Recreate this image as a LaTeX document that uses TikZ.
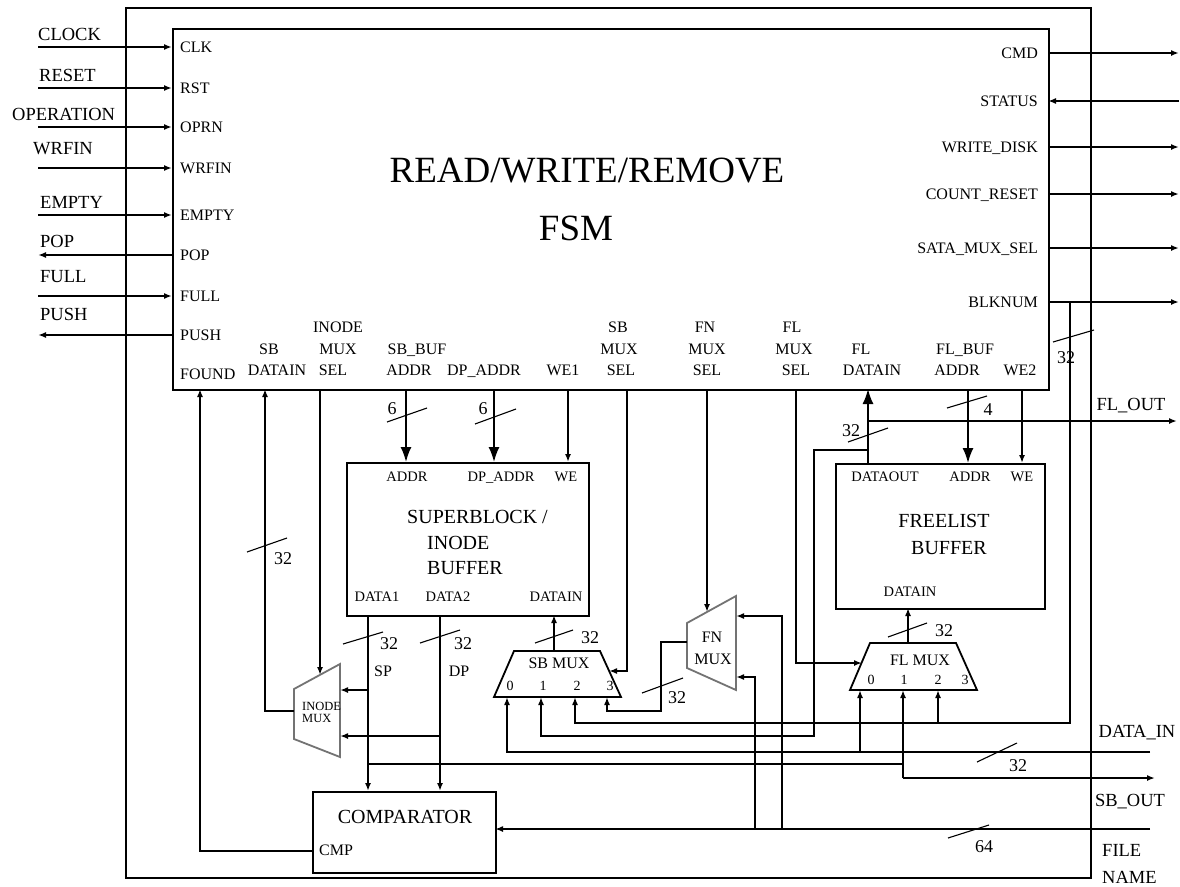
\documentclass[tikz,border=0pt]{standalone}
\usepackage{fontspec}
\setmainfont{Liberation Serif}
\usetikzlibrary{arrows.meta}
\begin{document}
\begin{tikzpicture}[x=1pt,y=-1pt,
  wire/.style={line width=1.7pt},
  blk/.style={draw,line width=1.9pt,inner sep=0pt,anchor=north west},
  muxg/.style={draw=black!55,line width=1.8pt},
  muxb/.style={draw,line width=1.8pt},
  sa/.style={-{Latex[length=8pt,width=6pt]}},
  ba/.style={-{Latex[length=15pt,width=11pt]}},
  bus/.style={line width=1.1pt},
  olbl/.style={inner sep=0pt,text height=12.2pt,text depth=0pt,font=\fontsize{18.5}{20}\selectfont},
  ilbl/.style={inner sep=0pt,text height=10.6pt,text depth=0pt,font=\fontsize{16}{18}\selectfont},
  blbl/.style={inner sep=0pt,text height=9.6pt,text depth=0pt,font=\fontsize{14.5}{16}\selectfont},
  tlbl/.style={inner sep=0pt,text height=13.2pt,text depth=0pt,font=\fontsize{20}{22}\selectfont},
  nlbl/.style={inner sep=0pt,text height=12pt,text depth=0pt,font=\fontsize{18}{20}\selectfont},
  dlbl/.style={inner sep=0pt,text height=9.2pt,text depth=0pt,font=\fontsize{14}{16}\selectfont},
  slbl/.style={inner sep=0pt,text height=8.3pt,text depth=0pt,font=\fontsize{12.5}{14}\selectfont},
  ttl/.style={inner sep=0pt,text height=24.5pt,text depth=0pt,font=\fontsize{37}{40}\selectfont},
]
\useasboundingbox (0,0) rectangle (1180,886);
\fill[white] (0,0) rectangle (1180,886);

% ---------- boxes ----------
\node[blk,minimum width=965pt,minimum height=870pt] (frame) at (125,7) {};
\node[blk,minimum width=876pt,minimum height=361pt] (fsm) at (172,28) {};
\node[blk,minimum width=242pt,minimum height=153pt] (sbb) at (346,462) {};
\node[blk,minimum width=209pt,minimum height=145pt] (flb) at (835,463) {};
\node[blk,minimum width=183pt,minimum height=81pt] (cmp) at (312,791) {};

\node[ttl] (ttl1) at (587,170) {READ/WRITE/REMOVE};
\node[ttl] (ttl2) at (576,228) {FSM};

% ---------- muxes ----------
\draw[muxb] (514,651) coordinate (sbm-tl) -- (600,651) coordinate (sbm-tr) -- (621,697) coordinate (sbm-br) -- (494,697) coordinate (sbm-bl) -- cycle;
\draw[muxb] (870,643) coordinate (flm-tl) -- (956,643) coordinate (flm-tr) -- (977,690) coordinate (flm-br) -- (850,690) coordinate (flm-bl) -- cycle;
\draw[muxg] (294,689) coordinate (inm-tl) -- (340,664) coordinate (inm-tr) -- (340,757) coordinate (inm-br) -- (294,739) coordinate (inm-bl) -- cycle;
\draw[muxg] (687,623) coordinate (fnm-tl) -- (736,596) coordinate (fnm-tr) -- (736,690) coordinate (fnm-br) -- (687,668) coordinate (fnm-bl) -- cycle;

\node[ilbl] (sbmt) at (559,663) {SB MUX};
\node[ilbl] (flmt) at (920,660) {FL MUX};
\node[dlbl] (sbd0) at (510,686) {0};
\node[dlbl] (sbd1) at (543,686) {1};
\node[dlbl] (sbd2) at (577,686) {2};
\node[dlbl] (sbd3) at (610,686) {3};
\node[dlbl] (fld0) at (871,680) {0};
\node[dlbl] (fld1) at (904,680) {1};
\node[dlbl] (fld2) at (938,680) {2};
\node[dlbl] (fld3) at (965,680) {3};
\node[slbl,anchor=west] (inmt1) at (302,706) {INODE};
\node[slbl,anchor=west] (inmt2) at (302,718) {MUX};
\node[ilbl] (fnmt1) at (712,637) {FN};
\node[ilbl] (fnmt2) at (713,659) {MUX};

% ---------- left signals ----------
\foreach \n/\y/\ext/\int/\lx/\ly/\d in {
  clk/47/CLOCK/CLK/38/40/i,
  rst/88/RESET/RST/39/81/i,
  opr/127/OPERATION/OPRN/12/120/i,
  wrf/168/WRFIN/WRFIN/33/154/i,
  emp/215/EMPTY/EMPTY/40/208/i,
  pop/255/POP/POP/40/247/o,
  ful/296/FULL/FULL/40/282/i,
  psh/335/PUSH/PUSH/40/320/o}{
  \coordinate (\n-ext) at (38,\y);
  \coordinate (\n-int) at (172,\y);
  \node[olbl,anchor=base west] (\n-el) at (\lx,\ly) {\ext};
  \node[ilbl,anchor=west] (\n-il) at (180,\y) {\int};
  \if\d i\relax
    \draw[wire,sa] (\n-ext) -- (\n-int);
  \else
    \draw[wire,sa] (\n-int) -- (\n-ext);
  \fi
}
\node[ilbl,anchor=west] (fnd-il) at (180,374) {FOUND};

% ---------- right signals ----------
\foreach \n/\y/\int/\d in {
  cmd/53/CMD/o,
  sts/101/STATUS/i,
  wrd/147/WRITE\_DISK/o,
  crs/194/COUNT\_RESET/o,
  sat/248/SATA\_MUX\_SEL/o,
  bln/302/BLKNUM/o}{
  \coordinate (\n-int) at (1048,\y);
  \coordinate (\n-ext) at (1179,\y);
  \node[ilbl,anchor=east] (\n-il) at (1038,\y) {\int};
  \if\d i\relax
    \draw[wire,sa] (\n-ext) -- (\n-int);
  \else
    \draw[wire,sa] (\n-int) -- (\n-ext);
  \fi
}

% ---------- FSM bottom labels ----------
\foreach \n/\x/\y/\t in {
  q1/269/349/SB, q2/277/370/DATAIN,
  q3/338/327/INODE, q4/338/349/MUX, q5/333/370/SEL,
  q6/417/349/SB\_BUF, q7/409/370/ADDR,
  q8/484/370/DP\_ADDR, q9/563/370/WE1,
  q10/618/327/SB, q11/619/349/MUX, q12/621/370/SEL,
  q13/705/327/FN, q14/707/349/MUX, q15/707/370/SEL,
  q16/792/327/FL, q17/794/349/MUX, q18/796/370/SEL,
  q19/861/349/FL, q20/872/370/DATAIN,
  q21/965/349/FL\_BUF, q22/957/370/ADDR,
  q23/1020/370/WE2}{
  \node[ilbl] (\n) at (\x,\y) {\t};
}

% ---------- box labels ----------
\node[blbl] (sb-a) at (407,477) {ADDR};
\node[blbl] (sb-d) at (501,477) {DP\_ADDR};
\node[blbl] (sb-w) at (566,477) {WE};
\node[tlbl,anchor=west] (sb-t1) at (407,517) {SUPERBLOCK /};
\node[tlbl,anchor=west] (sb-t2) at (427,543) {INODE};
\node[tlbl,anchor=west] (sb-t3) at (427,568) {BUFFER};
\node[blbl] (sb-d1) at (377,597) {DATA1};
\node[blbl] (sb-d2) at (448,597) {DATA2};
\node[blbl] (sb-di) at (556,597) {DATAIN};

\node[blbl] (fl-o) at (885,477) {DATAOUT};
\node[blbl] (fl-a) at (970,477) {ADDR};
\node[blbl] (fl-w) at (1022,477) {WE};
\node[tlbl] (fl-t1) at (944,521) {FREELIST};
\node[tlbl] (fl-t2) at (949,548) {BUFFER};
\node[blbl] (fl-di) at (910,592) {DATAIN};

\node[tlbl] (cmp-t) at (405,817) {COMPARATOR};
\node[ilbl,anchor=west] (cmp-p) at (319,850) {CMP};

% ---------- outer labels ----------
\node[olbl] (flout) at (1131,404) {FL\_OUT};
\node[olbl] (datain) at (1137,731) {DATA\_IN};
\node[olbl] (sbout) at (1130,800) {SB\_OUT};
\node[olbl,anchor=west] (fname1) at (1102,850) {FILE};
\node[olbl,anchor=west] (fname2) at (1102,877) {NAME};

% ---------- wires ----------
% BLKNUM branch
\coordinate (blkj) at (1070,302);
\draw[wire,sa] (blkj) -- (1070,723) -- (575,723) -- (575,697);
\draw[wire,sa] (938,723) -- (938,690);
% FL_OUT
\draw[wire,sa] (868,421) -- (1177,421);
% FOUND
\draw[wire,sa] (312,851) -- (200,851) -- (200,389);
% SB DATAIN
\draw[wire,sa] (294,711) -- (265,711) -- (265,389);
% INODE MUX SEL
\draw[wire,sa] (320,389) -- (320,675);
% SB_BUF ADDR, DP_ADDR, WE1
\draw[wire,ba] (406,389) -- (406,462);
\draw[wire,ba] (494,389) -- (494,462);
\draw[wire,sa] (568,389) -- (568,462);
% SB MUX SEL
\draw[wire,sa] (627,389) -- (627,671) -- (609,671);
% FN MUX SEL
\draw[wire,sa] (707,389) -- (707,612);
% FL MUX SEL
\draw[wire,sa] (796,389) -- (796,663) -- (862,663);
% FL DATAOUT -> FSM
\draw[wire,ba] (868,463) -- (868,389);
\draw[wire,sa] (868,450) -- (814,450) -- (814,736) -- (541,736) -- (541,697);
% FL_BUF ADDR, WE2
\draw[wire,ba] (968,389) -- (968,463);
\draw[wire,sa] (1022,389) -- (1022,463);
% DATA1
\draw[wire,sa] (368,615) -- (368,791);
\draw[wire,sa] (368,690) -- (340,690);
\draw[wire] (368,764) -- (903,764);
\draw[wire,sa] (903,778) -- (903,690);
\draw[wire,sa] (903,778) -- (1155,778);
% DATA2
\draw[wire,sa] (440,615) -- (440,791);
\draw[wire,sa] (440,736) -- (340,736);
% SB MUX out
\draw[wire,sa] (554,651) -- (554,615);
% FN MUX out -> SB MUX 3
\draw[wire,sa] (687,642) -- (661,642) -- (661,711) -- (607,711) -- (607,697);
% DATA_IN
\draw[wire,sa] (1150,752) -- (507,752) -- (507,697);
\draw[wire,sa] (860,752) -- (860,690);
% FL MUX out
\draw[wire,sa] (908,643) -- (908,608);
% FILE NAME
\draw[wire,sa] (1150,829) -- (495,829);
\draw[wire,sa] (782,829) -- (782,616) -- (736,616);
\draw[wire,sa] (755,829) -- (755,677) -- (736,677);

% ---------- bus marks ----------
\draw[bus] (247,552) -- (287,538);  \node[nlbl] (n1) at (283,558) {32};
\draw[bus] (387,422) -- (427,408);  \node[nlbl] (n2) at (392,408) {6};
\draw[bus] (475,424) -- (516,409);  \node[nlbl] (n3) at (483,408) {6};
\draw[bus] (848,442) -- (888,428);  \node[nlbl] (n4) at (851,430) {32};
\draw[bus] (947,408) -- (987,396);  \node[nlbl] (n5) at (988,409) {4};
\draw[bus] (1053,342) -- (1094,330); \node[nlbl] (n6) at (1066,357) {32};
\draw[bus] (343,644) -- (383,632);  \node[nlbl] (n7) at (389,643) {32};
\draw[bus] (420,643) -- (460,630);  \node[nlbl] (n8) at (463,643) {32};
\draw[bus] (535,643) -- (573,630);  \node[nlbl] (n9) at (590,637) {32};
\draw[bus] (642,693) -- (683,678);  \node[nlbl] (n10) at (677,697) {32};
\draw[bus] (888,637) -- (927,623);  \node[nlbl] (n11) at (944,630) {32};
\draw[bus] (977,762) -- (1017,743); \node[nlbl] (n12) at (1018,765) {32};
\draw[bus] (948,838) -- (989,825);  \node[nlbl] (n13) at (984,846) {64};
\node[ilbl] (sp) at (383,671) {SP};
\node[ilbl] (dp) at (459,671) {DP};
\end{tikzpicture}
\end{document}
